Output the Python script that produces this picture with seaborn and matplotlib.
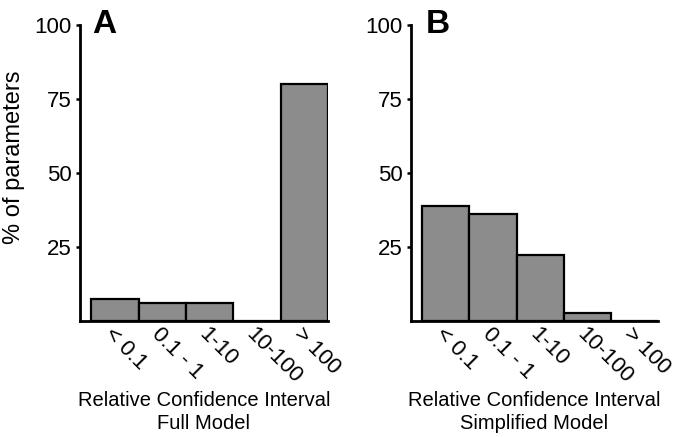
import matplotlib
matplotlib.use("Agg")
import matplotlib.pyplot as plt
import seaborn as sns
import pandas as pd

categories = ["< 0.1", "0.1 - 1", "1-10", "10-100", "> 100"]
full_model = [7.3, 6.2, 6.2, 0.0, 80.2]
simplified_model = [38.9, 36.1, 22.2, 2.8, 0.0]
y_ticks = [25, 50, 75, 100]
panel_letters = ["A", "B"]
x_labels = ["Relative Confidence Interval\nFull Model",
            "Relative Confidence Interval\nSimplified Model"]

sns.set_style("ticks")
plt.rcParams["font.family"] = ["Liberation Sans", "DejaVu Sans"]
plt.rcParams["text.color"] = "black"
plt.rcParams["xtick.color"] = "black"
plt.rcParams["ytick.color"] = "black"
plt.rcParams["axes.labelcolor"] = "black"

fig = plt.figure(figsize=(6.85, 4.37), dpi=100)
axA = fig.add_axes([0.1168, 0.2654, 0.362, 0.677])
axB = fig.add_axes([0.600, 0.2654, 0.3606, 0.677])

for ax, vals, lab in [(axA, full_model, x_labels[0]), (axB, simplified_model, x_labels[1])]:
    df = pd.DataFrame({"cat": categories, "val": vals})
    sns.barplot(data=df, x="cat", y="val", ax=ax, color="#8c8c8c", saturation=1,
                width=1.0, edgecolor="black", linewidth=1.6)
    ax.set_ylim(0, 100)
    ax.set_xlim(-0.74, 4.5)
    ax.set_yticks(y_ticks)
    ax.set_yticklabels([str(t) for t in y_ticks], fontsize=16)
    ax.tick_params(axis="y", direction="out", length=3, width=1.8, pad=3, color="black")
    ax.tick_params(axis="x", length=0, pad=2)
    ax.set_xticks(range(len(categories)))
    ax.set_xticklabels(categories, rotation=-45, ha="left", va="top",
                       rotation_mode="anchor", fontsize=16)
    for t in ax.get_xticklabels():
        t.set_x(t.get_position()[0])
    sns.despine(ax=ax)
    for s in ["left", "bottom"]:
        ax.spines[s].set_linewidth(2.0)
        ax.spines[s].set_color("black")
    ax.set_ylabel("")
    ax.set_xlabel(lab, fontsize=14.5, linespacing=1.3, labelpad=2)

fig.text(14 / 685, 0.641, "% of parameters", rotation=90, ha="center", va="center", fontsize=17)
fig.text(0.135, 0.9245, panel_letters[0], fontsize=24, fontweight="bold", ha="left", va="baseline")
fig.text(0.621, 0.9245, panel_letters[1], fontsize=24, fontweight="bold", ha="left", va="baseline")

fig.savefig("out.png", dpi=100)
